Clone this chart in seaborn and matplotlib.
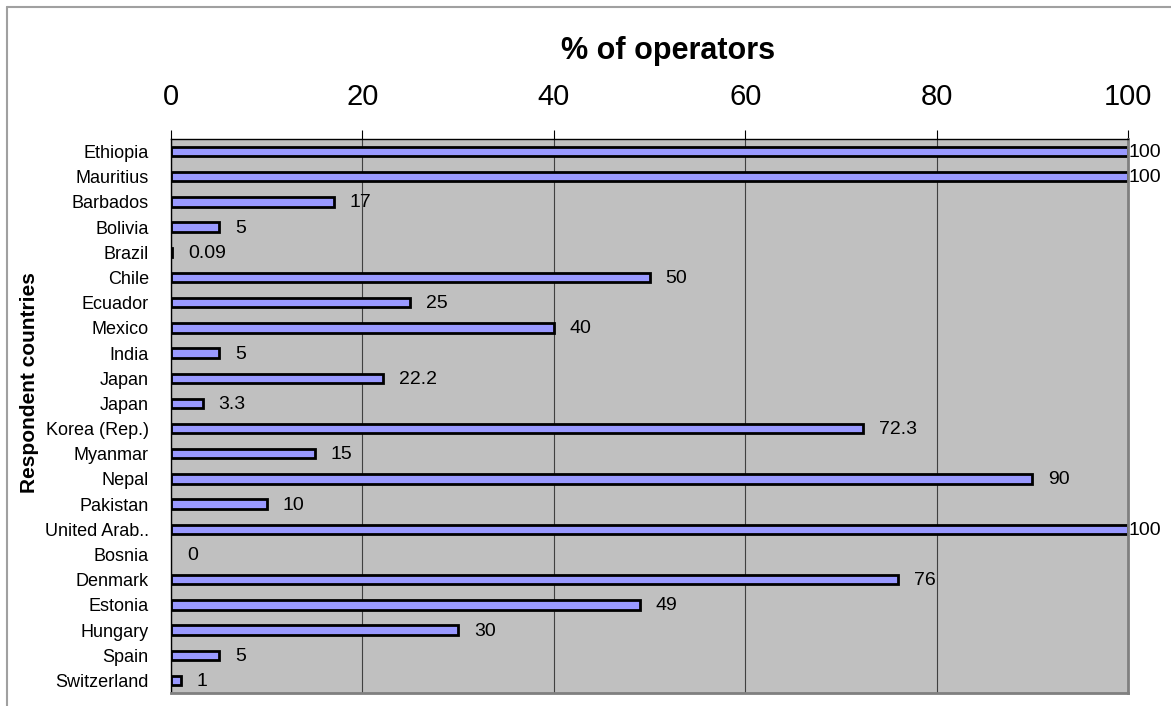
import pandas as pd
import matplotlib
matplotlib.use("Agg")
import matplotlib.pyplot as plt
from matplotlib.lines import Line2D
from matplotlib.ticker import FixedLocator
import seaborn as sns

# data
countries = ['Ethiopia', 'Mauritius', 'Barbados', 'Bolivia', 'Brazil', 'Chile', 'Ecuador',
             'Mexico', 'India', 'Japan', 'Japan', 'Korea (Rep.)', 'Myanmar', 'Nepal',
             'Pakistan', 'United Arab..', 'Bosnia', 'Denmark', 'Estonia', 'Hungary',
             'Spain', 'Switzerland']
values = [100, 100, 17, 5, 0.09, 50, 25, 40, 5, 22.2, 3.3, 72.3, 15, 90, 10, 100, 0,
          76, 49, 30, 5, 1]
value_labels = ['100', '100', '17', '5', '0.09', '50', '25', '40', '5', '22.2', '3.3',
                '72.3', '15', '90', '10', '100', '0', '76', '49', '30', '5', '1']
x_ticks = [0, 20, 40, 60, 80, 100]

sns.set_style("white")
plt.rcParams['font.family'] = ['Liberation Sans', 'DejaVu Sans']
plt.rcParams['text.color'] = 'black'
plt.rcParams['xtick.color'] = 'black'
plt.rcParams['ytick.color'] = 'black'

# Japan appears twice, so bars are keyed by row number
df = pd.DataFrame({"key": [str(i) for i in range(len(countries))],
                   "country": countries, "value": values})

W, H = 1171, 706
fig = plt.figure(figsize=(W / 100, H / 100), dpi=100)
ax = fig.add_axes([171 / W, 1 - 693 / H, (1128 - 171) / W, (693 - 139) / H])
ax.set_facecolor('#C0C0C0')

sns.barplot(data=df, x="value", y="key", orient="h", color="#9999FF",
            edgecolor="black", linewidth=2, width=0.37, saturation=1, ax=ax)
# a zero-length bar shows no outline in the reference
for p in ax.patches:
    if p.get_width() == 0:
        p.set_linewidth(0)

n = len(countries)
ax.set_xlim(0, 100)
ax.set_ylim(n - 0.5, -0.5)
ax.xaxis.tick_top()
ax.set_xticks(x_ticks)
ax.set_xticklabels([str(t) for t in x_ticks], fontsize=21, color='black')
ax.tick_params(axis='x', which='major', direction='out', length=6.5, width=0.8,
               color='black', pad=14)
ax.set_yticks(range(n))
ax.set_yticklabels(countries, fontsize=13, color='black')
ax.tick_params(axis='y', which='major', length=0, pad=16)
ax.yaxis.set_minor_locator(FixedLocator([i - 0.5 for i in range(n + 1)]))
ax.tick_params(axis='y', which='minor', direction='out', length=4, width=0.8, color='black')
ax.set_xlabel("")
ax.set_ylabel("")

ax.grid(axis='x', color='#404040', linewidth=0.8)
ax.set_axisbelow(True)
for side in ['top', 'left']:
    ax.spines[side].set_color('black')
    ax.spines[side].set_linewidth(1)
for side in ['right', 'bottom']:
    ax.spines[side].set_color('#808080')
    ax.spines[side].set_linewidth(2)

for i, (v, lab) in enumerate(zip(values, value_labels)):
    off = 1 if v >= 100 else 16
    ax.annotate(lab, xy=(v, i), xytext=(off, -1), textcoords='offset pixels',
                ha='left', va='center', fontsize=14, color='black', annotation_clip=False)

fig.text(668 / W, 1 - 51 / H, "% of operators", fontsize=22, fontweight='bold',
         ha='center', va='center', color='black')
fig.text(30 / W, 1 - 383 / H, "Respondent countries", fontsize=15, fontweight='bold',
         rotation=90, ha='center', va='center', color='black')

# chart border
fig.add_artist(Line2D([7 / W, 7 / W], [0, 1 - 7 / H], transform=fig.transFigure,
                      color='#A0A0A0', linewidth=1.5))
fig.add_artist(Line2D([7 / W, 1], [1 - 7 / H, 1 - 7 / H], transform=fig.transFigure,
                      color='#A0A0A0', linewidth=1.5))

fig.savefig("out.png", dpi=100)
